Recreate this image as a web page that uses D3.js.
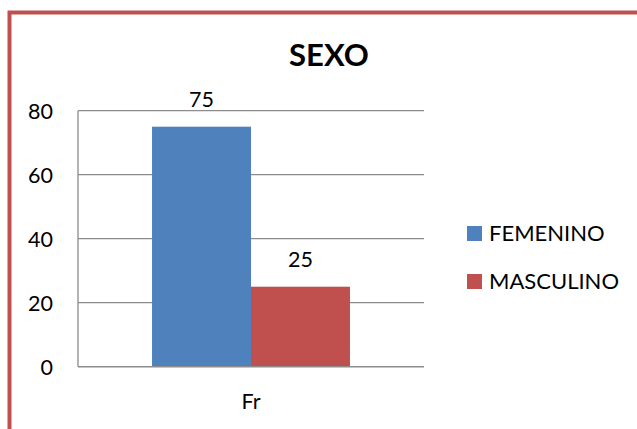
<!DOCTYPE html>
<html>
<head>
<meta charset="utf-8">
<script src="https://cdn.jsdelivr.net/npm/d3@7"></script>
<style>
  body { margin: 0; background: #fff; }
  svg { display: block; font-family: Lato, "Liberation Sans", sans-serif; }
</style>
</head>
<body>
<div id="chart"></div>
<script>
// datos
const categories = ["Fr"];
const seriesNames = ["FEMENINO", "MASCULINO"];
const seriesValues = [75, 25];
const yTicks = [0, 20, 40, 60, 80];
const colors = ["#4F81BD", "#C0504D"];

const W = 637, H = 429;
const plot = { left: 78, right: 424, top: 110.7, bottom: 366.7 };

const svg = d3.select("#chart").append("svg")
  .attr("width", W).attr("height", H);

// marco del grafico
svg.append("rect")
  .attr("x", 9.5).attr("y", 12.5)
  .attr("width", W + 20).attr("height", H + 20)
  .attr("fill", "none")
  .attr("stroke", "#C0504D")
  .attr("stroke-width", 4);

const y = d3.scaleLinear().domain([0, 80]).range([plot.bottom, plot.top]);
const x0 = d3.scaleBand().domain(categories).range([plot.left, plot.right]).paddingInner(0).paddingOuter(0.374);
const x1 = d3.scaleBand().domain(seriesNames).range([0, x0.bandwidth()]);

// lineas de cuadricula
svg.append("g")
  .selectAll("line")
  .data(yTicks.filter(d => d > 0))
  .join("line")
  .attr("x1", plot.left).attr("x2", plot.right)
  .attr("y1", d => y(d)).attr("y2", d => y(d))
  .attr("stroke", "#8c8c8c")
  .attr("stroke-width", 1.3);

// barras
const g = svg.append("g");
g.selectAll("rect")
  .data(seriesNames.map((s, i) => ({ s, v: seriesValues[i], c: colors[i] })))
  .join("rect")
  .attr("x", d => x0("Fr") + x1(d.s))
  .attr("y", d => y(d.v))
  .attr("width", x1.bandwidth())
  .attr("height", d => y(0) - y(d.v))
  .attr("fill", d => d.c);

// etiquetas de valor
g.selectAll("text")
  .data(seriesNames.map((s, i) => ({ s, v: seriesValues[i] })))
  .join("text")
  .attr("x", d => x0("Fr") + x1(d.s) + x1.bandwidth() / 2)
  .attr("y", d => y(d.v) - 20)
  .attr("text-anchor", "middle")
  .attr("font-size", 21.5)
  .attr("fill", "#000")
  .text(d => d.v);

// ejes
svg.append("line")
  .attr("x1", plot.left).attr("x2", plot.left)
  .attr("y1", plot.top).attr("y2", plot.bottom)
  .attr("stroke", "#8c8c8c").attr("stroke-width", 1.3);
svg.append("line")
  .attr("x1", plot.left).attr("x2", plot.right)
  .attr("y1", plot.bottom).attr("y2", plot.bottom)
  .attr("stroke", "#8c8c8c").attr("stroke-width", 1.5);

svg.append("g")
  .selectAll("text")
  .data(yTicks)
  .join("text")
  .attr("x", 53)
  .attr("y", d => y(d) + 8)
  .attr("text-anchor", "end")
  .attr("font-size", 21.5)
  .text(d => d);

svg.append("text")
  .attr("x", x0("Fr") + x0.bandwidth() / 2)
  .attr("y", 409)
  .attr("text-anchor", "middle")
  .attr("font-size", 21.5)
  .text(categories[0]);

// titulo
svg.append("text")
  .attr("x", 329).attr("y", 66)
  .attr("text-anchor", "middle")
  .attr("font-size", 31)
  .attr("font-weight", "bold")
  .text("SEXO");

// leyenda
const legend = svg.append("g")
  .selectAll("g")
  .data(seriesNames)
  .join("g")
  .attr("transform", (d, i) => `translate(467, ${226 + i * 48})`);
legend.append("rect")
  .attr("width", 15).attr("height", 15)
  .attr("fill", (d, i) => colors[i]);
legend.append("text")
  .attr("x", 22).attr("y", 15)
  .attr("font-size", 22)
  .text(d => d);
</script>
</body>
</html>
